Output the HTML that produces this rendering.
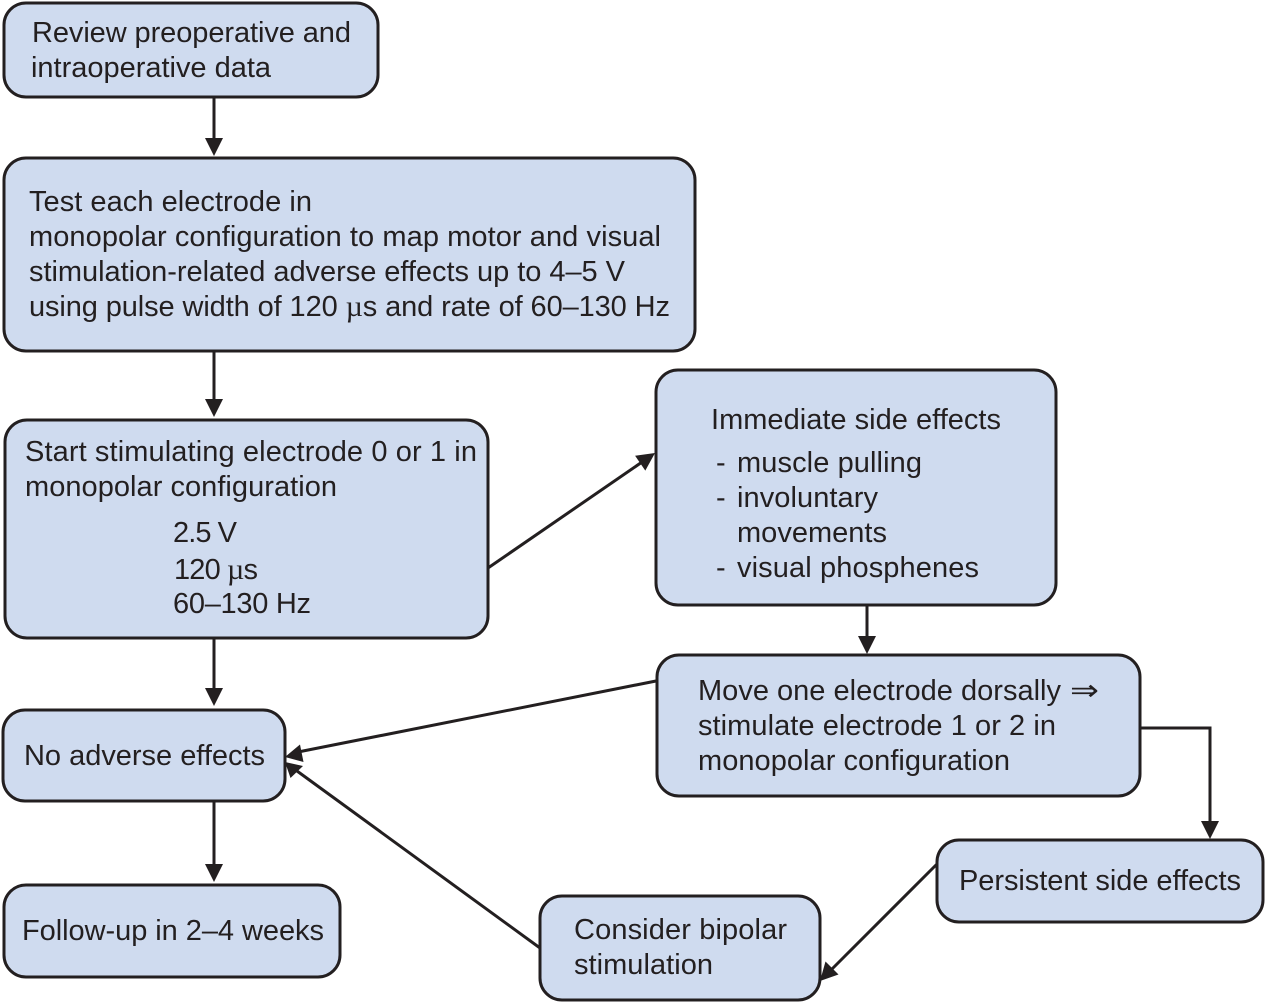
<!DOCTYPE html>
<html><head><meta charset="utf-8"><style>
html,body{margin:0;padding:0;background:#fff}
svg{display:block}
text{font-family:"Liberation Sans",sans-serif;font-size:29px;fill:#231f20}
tspan.m{font-family:"Liberation Serif",serif;font-size:30px}
rect{fill:#cfdbef;stroke:#231f20;stroke-width:3}
line,polyline{stroke:#231f20;stroke-width:3;fill:none}
polygon{fill:#231f20}
</style></head><body>
<svg width="1266" height="1003" viewBox="0 0 1266 1003" xmlns="http://www.w3.org/2000/svg">
<line x1="214" y1="97" x2="214" y2="145"/><polygon points="205,138 223,138 214,156"/>
<line x1="214" y1="351" x2="214" y2="408"/><polygon points="205,399 223,399 214,417"/>
<line x1="214" y1="638" x2="214" y2="696"/><polygon points="205,688 223,688 214,706"/>
<line x1="214" y1="801" x2="214" y2="872"/><polygon points="205,864 223,864 214,882"/>
<line x1="488" y1="568" x2="645" y2="460"/><polygon points="635.1,455.8 645.3,470.6 655,453"/>
<line x1="867" y1="605" x2="867" y2="644"/><polygon points="858,636 876,636 867,654"/>
<line x1="656" y1="681" x2="298" y2="752"/><polygon points="300,744.5 303.5,762 285,757"/>
<polyline points="1140,728 1210,728 1210,829"/><polygon points="1201,821 1219,821 1210,839"/>
<line x1="937" y1="864" x2="829" y2="972"/><polygon points="825.5,961.5 838.5,974.5 820,981"/>
<line x1="540" y1="948" x2="297" y2="771"/><polygon points="303,766 290.5,778 285,762"/>
<rect x="4" y="3" width="374" height="94" rx="22"/>
<rect x="4" y="158" width="691" height="193" rx="22"/>
<rect x="5" y="420" width="483" height="218" rx="22"/>
<rect x="656" y="370" width="400" height="235" rx="22"/>
<rect x="657" y="655" width="483" height="141" rx="22"/>
<rect x="3" y="710" width="282" height="91" rx="22"/>
<rect x="4" y="885" width="336" height="92" rx="22"/>
<rect x="540" y="896" width="280" height="104" rx="22"/>
<rect x="937" y="840" width="326" height="82" rx="22"/>
<text x="32" y="42" textLength="319">Review preoperative and</text>
<text x="31" y="77" textLength="240">intraoperative data</text>
<text x="29" y="211" textLength="283">Test each electrode in</text>
<text x="29" y="246" textLength="632">monopolar configuration to map motor and visual</text>
<text x="29" y="281" textLength="596">stimulation-related adverse effects up to 4–5 V</text>
<text x="29" y="316" textLength="641">using pulse width of 120 <tspan class="m">µ</tspan>s and rate of 60–130 Hz</text>
<text x="25" y="461" textLength="452">Start stimulating electrode 0 or 1 in</text>
<text x="25" y="496" textLength="312">monopolar configuration</text>
<text x="173" y="542" textLength="64">2.5 V</text>
<text x="174" y="579" textLength="84">120 <tspan class="m">µ</tspan>s</text>
<text x="173" y="613" textLength="138">60–130 Hz</text>
<text x="711" y="429" textLength="290">Immediate side effects</text>
<text x="716" y="472">-</text><text x="737" y="472" textLength="185">muscle pulling</text>
<text x="716" y="507">-</text><text x="737" y="507" textLength="141">involuntary</text>
<text x="737" y="542" textLength="150">movements</text>
<text x="716" y="577">-</text><text x="737" y="577" textLength="242">visual phosphenes</text>
<text x="698" y="700" textLength="363">Move one electrode dorsally</text>
<text x="1070" y="700" style="font-family:'DejaVu Sans',sans-serif" textLength="29" lengthAdjust="spacingAndGlyphs">⇒</text>
<text x="698" y="735" textLength="358">stimulate electrode 1 or 2 in</text>
<text x="698" y="770" textLength="312">monopolar configuration</text>
<text x="24" y="765" textLength="241">No adverse effects</text>
<text x="22" y="940" textLength="302">Follow-up in 2–4 weeks</text>
<text x="574" y="939" textLength="213">Consider bipolar</text>
<text x="574" y="974" textLength="139">stimulation</text>
<text x="959" y="890" textLength="282">Persistent side effects</text>
</svg>
</body></html>
